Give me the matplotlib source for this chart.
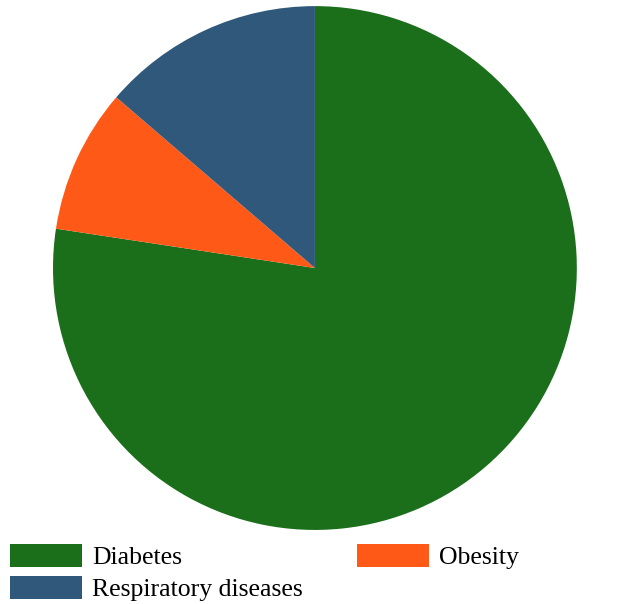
import matplotlib
matplotlib.use("Agg")
import matplotlib.pyplot as plt
from matplotlib.patches import Patch

# share of cases per condition (%)
labels = ["Diabetes", "Obesity", "Respiratory diseases"]
shares = [77.4, 8.9, 13.7]
colors = ["#1b6f1b", "#ff5917", "#30587a"]

plt.rcParams["font.family"] = ["Liberation Serif", "DejaVu Serif"]

fig = plt.figure(figsize=(6.17, 6.04), dpi=100)
ax = fig.add_axes([0.0859, 0.1225, 0.849, 0.8675])
ax.pie(shares, colors=colors, startangle=90, counterclock=False,
       wedgeprops=dict(linewidth=0))
ax.set_xlim(-1, 1)
ax.set_ylim(-1, 1)
ax.set_aspect("equal")
ax.axis("off")

# legend laid out row by row: Diabetes | Obesity, then Respiratory diseases
handles = [Patch(facecolor=c, edgecolor="none") for c in colors]
order = [0, 2, 1]
fig.legend([handles[i] for i in order], [labels[i] for i in order],
           loc="upper left", bbox_to_anchor=(10 / 617, 1 - 544 / 604),
           ncol=2, frameon=False, fontsize=18.5, borderpad=0, borderaxespad=0,
           handlelength=2.8, handleheight=1.0, handletextpad=0.4,
           labelspacing=0.25, columnspacing=2.1)

fig.savefig("out.png", dpi=100)
